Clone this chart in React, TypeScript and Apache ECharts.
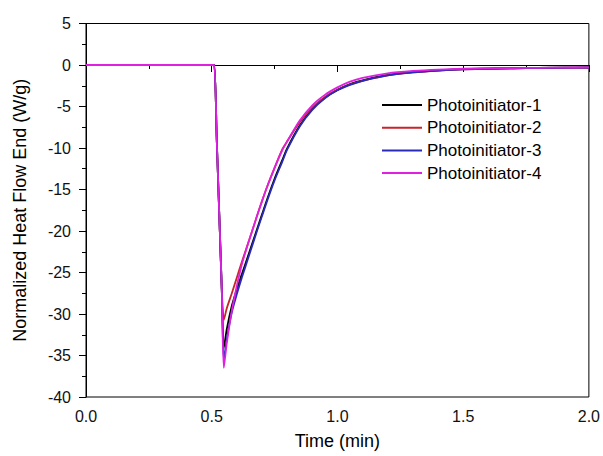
import React, { useEffect, useRef } from "react";
import * as echarts from "echarts";

const times = [0, 0.1, 0.2, 0.3, 0.4, 0.5, 0.51, 0.52, 0.53, 0.54, 0.548, 0.56, 0.58, 0.6, 0.62, 0.65, 0.68, 0.7, 0.72, 0.75, 0.78, 0.8, 0.85, 0.9, 0.95, 1.0, 1.05, 1.1, 1.2, 1.3, 1.4, 1.5, 1.6, 1.7, 1.8, 1.9, 2.0];

const pi1 = [0, 0, 0, 0, 0, 0, 0, -9, -18, -27, -34.1, -31.8, -29.0, -27.0, -25.2, -22.5, -19.8, -18.0, -16.2, -13.7, -11.5, -10.05, -7.3, -5.3, -3.95, -3.0, -2.3, -1.85, -1.2, -0.86, -0.64, -0.5, -0.44, -0.39, -0.35, -0.32, -0.3];
const pi2 = [0, 0, 0, 0, 0, 0, 0, -9, -18, -27, -30.7, -29.3, -27.5, -25.6, -23.7, -21.0, -18.2, -16.4, -14.7, -12.4, -10.2, -9.2, -6.9, -5.1, -3.85, -3.0, -2.35, -1.9, -1.25, -0.88, -0.66, -0.52, -0.45, -0.4, -0.36, -0.33, -0.3];
const pi3 = [0, 0, 0, 0, 0, 0, 0, -9, -18, -27, -35.5, -33.0, -29.8, -27.6, -25.6, -22.8, -20.0, -18.2, -16.4, -13.9, -11.7, -10.2, -7.4, -5.4, -4.0, -3.05, -2.4, -1.9, -1.25, -0.88, -0.66, -0.52, -0.45, -0.4, -0.36, -0.33, -0.3];
const pi4 = [0, 0, 0, 0, 0, 0, 0, -9, -18, -27, -36.5, -33.5, -29.6, -26.6, -24.0, -21.0, -18.2, -16.4, -14.7, -12.4, -10.3, -9.2, -6.7, -4.85, -3.6, -2.7, -2.0, -1.55, -1.0, -0.72, -0.55, -0.45, -0.4, -0.37, -0.34, -0.31, -0.29];

const seriesNames = ["Photoinitiator-1", "Photoinitiator-2", "Photoinitiator-3", "Photoinitiator-4"];
const seriesColors = ["#000000", "#c8252a", "#2a2ab8", "#e020e0"];
const seriesValues = [pi1, pi2, pi3, pi4];

const FONT = "'Liberation Sans', Arial, sans-serif";

export default function App() {
  const ref = useRef<HTMLDivElement>(null);
  useEffect(() => {
    if (!ref.current) return;
    const chart = echarts.init(ref.current, undefined, { renderer: "svg" });
    chart.setOption({
      animation: false,
      backgroundColor: "#ffffff",
      textStyle: { fontFamily: FONT },
      grid: {
        left: 86,
        right: 11,
        top: 23.5,
        bottom: 59,
        show: true,
        borderColor: "#000",
        borderWidth: 1,
      },
      legend: {
        orient: "vertical",
        left: 377,
        top: 91.5,
        icon: "rect",
        itemWidth: 40,
        itemHeight: 2,
        itemGap: 5.7,
        textStyle: { fontSize: 17, color: "#000", fontFamily: FONT, lineHeight: 17 },
        data: seriesNames.map((n, i) => ({ name: n, itemStyle: { color: seriesColors[i] } })),
      },
      xAxis: {
        type: "value",
        min: 0,
        max: 2,
        interval: 0.5,
        name: "Time (min)",
        nameLocation: "middle",
        nameGap: 35,
        nameTextStyle: { fontSize: 18, color: "#000", fontFamily: FONT },
        axisLine: { lineStyle: { color: "#000", width: 1 } },
        axisTick: { show: true, inside: false, length: 7, lineStyle: { color: "#000" } },
        minorTick: { show: true, splitNumber: 2, length: 4, lineStyle: { color: "#000" } },
        splitLine: { show: false },
        axisLabel: {
          fontSize: 16,
          color: "#111",
          margin: 11,
          fontFamily: FONT,
          formatter: (v: number) => v.toFixed(1),
        },
      },
      yAxis: {
        type: "value",
        min: -40,
        max: 5,
        interval: 5,
        name: "Normalized Heat Flow End (W/g)",
        nameLocation: "middle",
        nameGap: 57,
        nameTextStyle: { fontSize: 18, color: "#000", fontFamily: FONT },
        axisLine: { show: true, lineStyle: { color: "#000", width: 1 } },
        axisTick: { show: true, inside: false, length: 7, lineStyle: { color: "#000" } },
        minorTick: { show: true, splitNumber: 2, length: 4, lineStyle: { color: "#000" } },
        splitLine: { show: false },
        axisLabel: { fontSize: 16, color: "#111", margin: 15, fontFamily: FONT },
      },
      series: seriesNames.map((name, i) => ({
        name,
        type: "line",
        symbol: "none",
        smooth: 0.25,
        data: times.map((t, j) => [t, seriesValues[i][j]]),
        lineStyle: { color: seriesColors[i], width: 1.8 },
        itemStyle: { color: seriesColors[i] },
      })),
    });
    return () => chart.dispose();
  }, []);
  return <div ref={ref} style={{ width: 603, height: 456, position: "absolute", left: 0, top: 0 }} />;
}
